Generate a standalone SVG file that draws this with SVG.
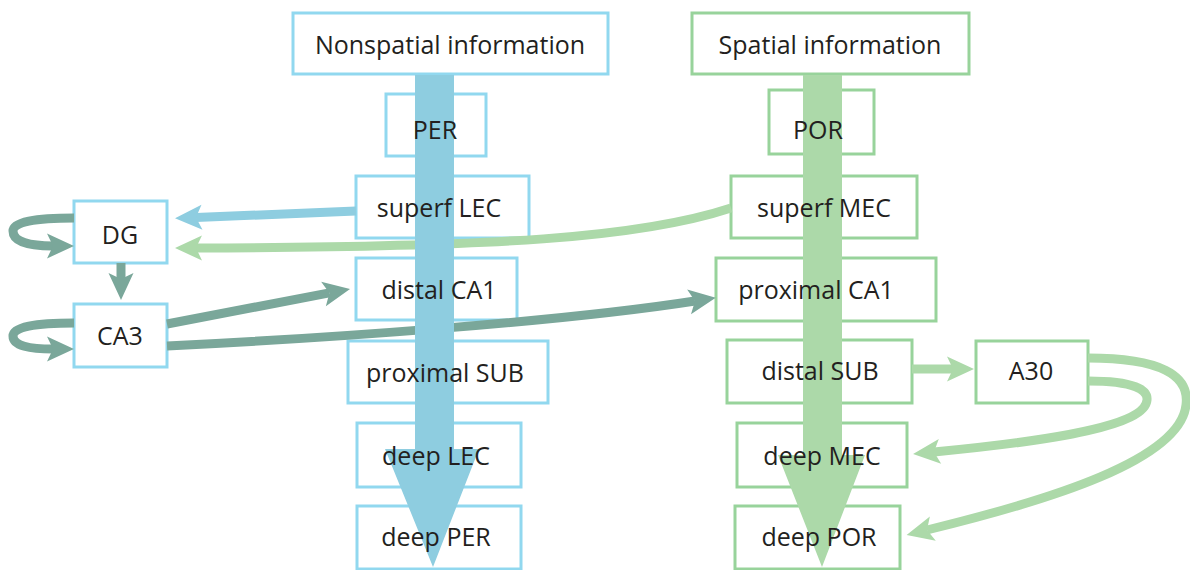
<svg xmlns="http://www.w3.org/2000/svg" width="1190" height="570" viewBox="0 0 1190 570">
  <defs>
    <style>
      .bx { fill: #ffffff; stroke-width: 3; }
      .bb { stroke: #91d8ef; }
      .bg { stroke: #98d39b; }
      .lbl { font-family: "Open Sans", "Liberation Sans", sans-serif; font-size: 25px; fill: #231f20; text-anchor: middle; }
      .cn { fill: none; stroke-width: 9; }
      .teal { stroke: #7aa79a; }
      .blue { stroke: #8ecde0; }
      .green { stroke: #acd9a9; }
    </style>
    <marker id="ahTeal" markerUnits="userSpaceOnUse" orient="auto" refX="0" refY="0" markerWidth="60" markerHeight="60" overflow="visible">
      <path d="M21,0 L-6,-12.5 L0,0 L-6,12.5 Z" fill="#7aa79a"/>
    </marker>
    <marker id="ahBlue" markerUnits="userSpaceOnUse" orient="auto" refX="0" refY="0" markerWidth="60" markerHeight="60" overflow="visible">
      <path d="M21,0 L-6,-12.5 L0,0 L-6,12.5 Z" fill="#8ecde0"/>
    </marker>
    <marker id="ahGreen" markerUnits="userSpaceOnUse" orient="auto" refX="0" refY="0" markerWidth="60" markerHeight="60" overflow="visible">
      <path d="M21,0 L-6,-12.5 L0,0 L-6,12.5 Z" fill="#acd9a9"/>
    </marker>
  </defs>

  <rect width="1190" height="570" fill="#ffffff"/>

  <!-- node boxes -->
  <g id="nonspatial"><rect class="bx bb" x="293" y="13" width="315" height="61"/></g>
  <g id="per"><rect class="bx bb" x="386" y="94" width="100" height="62"/></g>
  <g id="superf-lec"><rect class="bx bb" x="356" y="176" width="173" height="62"/></g>
  <g id="distal-ca1"><rect class="bx bb" x="356" y="258" width="161" height="62"/></g>
  <g id="proximal-sub"><rect class="bx bb" x="348" y="341" width="200" height="62"/></g>
  <g id="deep-lec"><rect class="bx bb" x="357" y="423" width="164" height="64"/></g>
  <g id="deep-per"><rect class="bx bb" x="357" y="506" width="164" height="63"/></g>

  <g id="spatial"><rect class="bx bg" x="692" y="13" width="277" height="61"/></g>
  <g id="por"><rect class="bx bg" x="769" y="90" width="105" height="64"/></g>
  <g id="superf-mec"><rect class="bx bg" x="731" y="176" width="186" height="62"/></g>
  <g id="proximal-ca1"><rect class="bx bg" x="716" y="258" width="220" height="63"/></g>
  <g id="distal-sub"><rect class="bx bg" x="727" y="340" width="185" height="63"/></g>
  <g id="deep-mec"><rect class="bx bg" x="737" y="423" width="170" height="64"/></g>
  <g id="deep-por"><rect class="bx bg" x="735" y="506" width="165" height="63"/></g>
  <g id="a30"><rect class="bx bg" x="976" y="341" width="112" height="62"/></g>

  <g id="dg"><rect class="bx bb" x="74" y="201" width="93" height="62"/></g>
  <g id="ca3"><rect class="bx bb" x="74" y="304" width="93" height="63"/></g>

  <!-- connectors -->
  <g id="connectors">
    <path class="cn teal" d="M74,218 C35,218 13,222 13,231 C13,242 30,246 53,246" marker-end="url(#ahTeal)"/>
    <path class="cn teal" d="M74,323 C35,323 13,327 13,336 C13,346 30,349 53,349" marker-end="url(#ahTeal)"/>
    <path class="cn teal" d="M121,263 L121,279" marker-end="url(#ahTeal)"/>
    <path class="cn teal" d="M167,324 L329.4,292.9" marker-end="url(#ahTeal)"/>
    <path class="cn teal" d="M167,346 C330,338 560,322 695,301" marker-end="url(#ahTeal)"/>
    <path class="cn blue" d="M356,211 L196,217.5" marker-end="url(#ahBlue)"/>
    <path class="cn green" d="M731,208 C640,238 500,247 196,248" marker-end="url(#ahGreen)"/>
    <path class="cn green" d="M912,369 L953,369" marker-end="url(#ahGreen)"/>
    <path class="cn green" d="M1088,381 C1135,381 1148,390 1147,400 C1145,425 1060,440 934,452" marker-end="url(#ahGreen)"/>
    <path class="cn green" d="M1088,358 C1160,358 1190,375 1186,405 C1180,460 1050,500 927,530" marker-end="url(#ahGreen)"/>
  </g>

  <!-- main flow arrows through each stream -->
  <g id="nonspatial-stream">
    <polygon points="415,75 454,75 454,449 479,449 433,567 385,449 415,449" fill="#8ecde0"/>
  </g>
  <g id="spatial-stream">
    <polygon points="803,75 842,75 842,455 865,455 822,567 778,455 803,455" fill="#acd9a9"/>
  </g>

  <!-- labels -->
  <g id="labels">
    <text class="lbl" x="450" y="54">Nonspatial information</text>
    <text class="lbl" x="435" y="139">PER</text>
    <text class="lbl" x="439" y="217">superf LEC</text>
    <text class="lbl" x="439" y="299">distal CA1</text>
    <text class="lbl" x="445" y="382">proximal SUB</text>
    <text class="lbl" x="436" y="465">deep LEC</text>
    <text class="lbl" x="436" y="546">deep PER</text>

    <text class="lbl" x="830" y="54">Spatial information</text>
    <text class="lbl" x="818" y="139">POR</text>
    <text class="lbl" x="824" y="217">superf MEC</text>
    <text class="lbl" x="816" y="299">proximal CA1</text>
    <text class="lbl" x="820" y="380">distal SUB</text>
    <text class="lbl" x="822" y="465">deep MEC</text>
    <text class="lbl" x="819" y="546">deep POR</text>
    <text class="lbl" x="1031" y="380">A30</text>

    <text class="lbl" x="120" y="244">DG</text>
    <text class="lbl" x="120" y="345">CA3</text>
  </g>
</svg>
